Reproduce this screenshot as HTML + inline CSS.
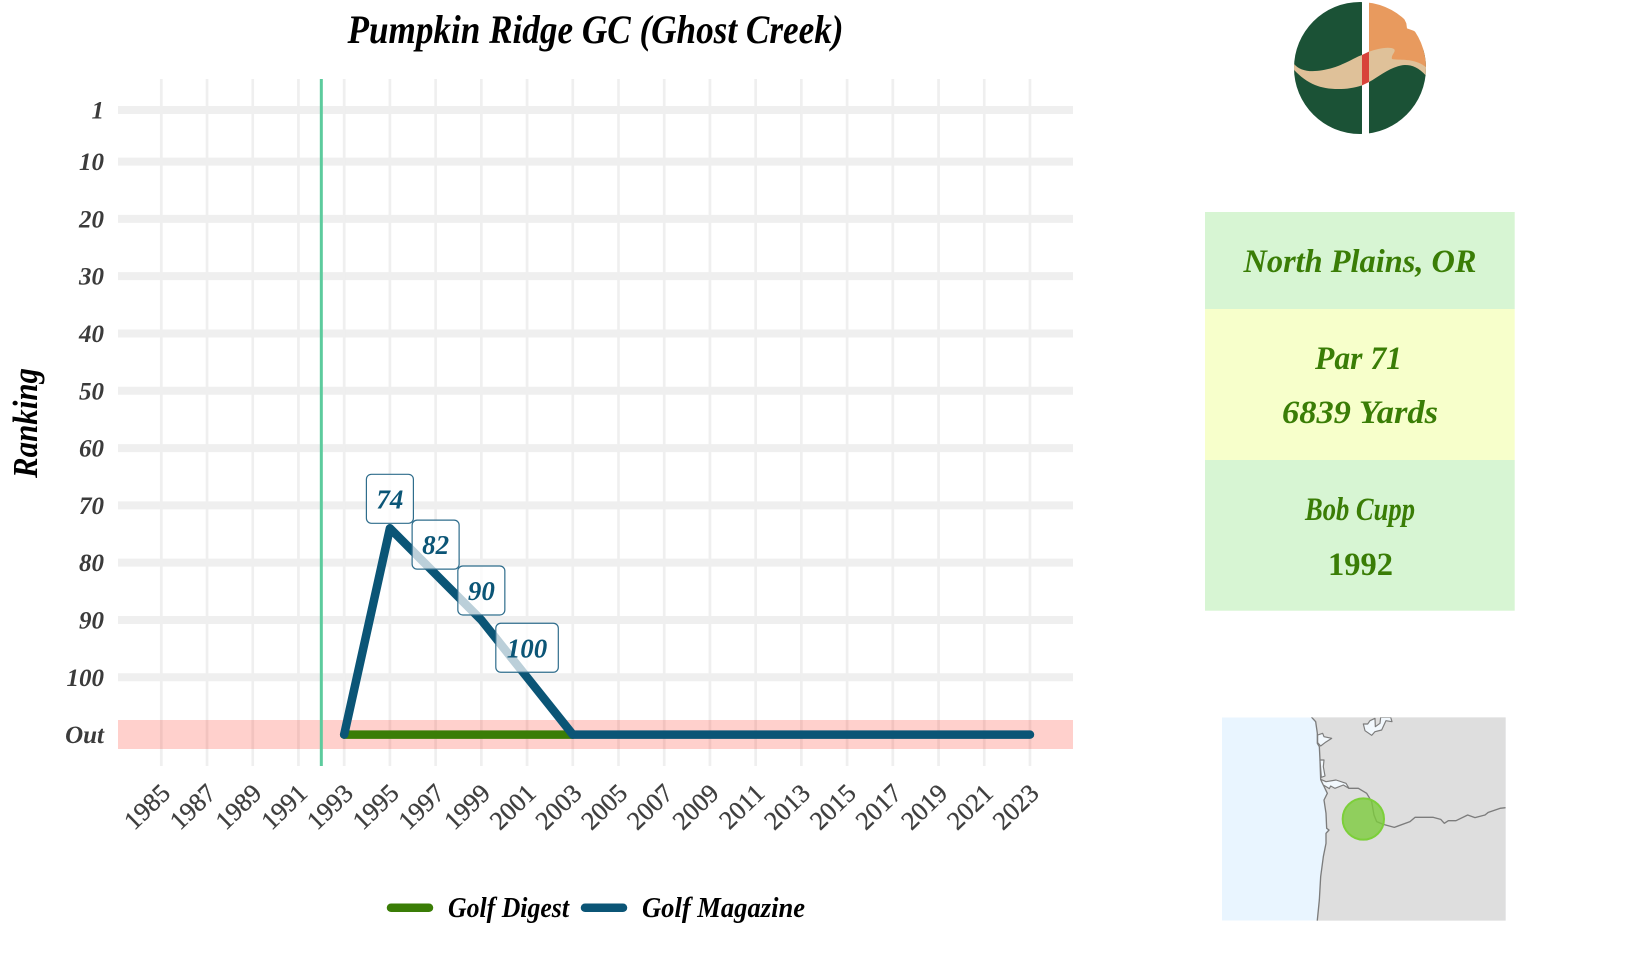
<!DOCTYPE html>
<html lang="en">
<head>
<meta charset="utf-8">
<title>Pumpkin Ridge GC (Ghost Creek)</title>
<style>
html,body{margin:0;padding:0;background:#fff;width:1632px;height:960px;overflow:hidden}
svg{display:block}
text{font-family:"Liberation Serif",serif}
.tt{font-weight:bold;font-style:italic;fill:#000}
.info{font-weight:bold;font-style:italic;fill:#3a7d06;font-size:33px}
</style>
</head>
<body>
<svg id="root" xmlns="http://www.w3.org/2000/svg" width="1632" height="960" viewBox="0 0 1632 960">
  <defs>
    <clipPath id="logoClip"><circle cx="480" cy="204" r="198"/></clipPath>
    <clipPath id="mapClip"><rect x="66" y="52" width="851" height="610"/></clipPath>
  </defs>

  <text class="tt" x="595.5" y="43" font-size="40" text-anchor="middle" textLength="496" lengthAdjust="spacingAndGlyphs">Pumpkin Ridge GC (Ghost Creek)</text>
  <text class="tt" transform="translate(37,478) rotate(-90)" font-size="35" textLength="110" lengthAdjust="spacingAndGlyphs">Ranking</text>

  <g id="grid"></g>
  <rect x="118" y="720" width="955" height="29" fill="#ff1500" fill-opacity="0.2"/>
  <g id="founded"></g>
  <g id="lines"></g>
  <g id="labels"></g>
  <g id="ytick"></g>
  <g id="xtick"></g>

  <g>
    <g>
      <line x1="391" y1="907.7" x2="429" y2="907.7" stroke="#3a7d06" stroke-width="8.5" stroke-linecap="round"/>
      <text class="tt" x="448" y="917" font-size="28" textLength="121" lengthAdjust="spacingAndGlyphs">Golf Digest</text>
    </g>
    <g>
      <line x1="585" y1="907.7" x2="623" y2="907.7" stroke="#0b5576" stroke-width="8.5" stroke-linecap="round"/>
      <text class="tt" x="642" y="917" font-size="28" textLength="163" lengthAdjust="spacingAndGlyphs">Golf Magazine</text>
    </g>
  </g>

  <g transform="translate(1200,0) scale(0.33333)">
    <g clip-path="url(#logoClip)">
      <rect x="270" y="0" width="216" height="410" fill="#1b5236"/>
      <rect x="507" y="150" width="190" height="260" fill="#1b5236"/>
      <path d="M507,0 L600,0 L612,55 L619,70 L621,85 L640,92 L690,120 L690,212 L640,186 L576,182 L507,200 Z" fill="#e89a5e"/>
      <path d="M276,183 C295,215 335,222 400,203 C440,190 465,172 486,165 L507,155 C530,148 565,138 582,147 C590,155 572,165 576,177 C600,182 650,172 685,208 L685,235 C660,205 640,195 615,195 C575,197 540,228 507,246 L486,256 C440,272 380,270 345,255 C320,245 295,225 276,203 Z" fill="#dfc199"/>
    </g>
    <path d="M486,165 L507,155 L507,246 L486,256 Z" fill="#d8433a"/>
  </g>

  <g>
    <rect x="1205" y="212" width="309.7" height="97" fill="#d7f5d3"/>
    <rect x="1205" y="309" width="309.7" height="151" fill="#f7ffcb"/>
    <rect x="1205" y="460" width="309.7" height="150.7" fill="#d7f5d3"/>
    <text class="info" x="1360" y="272" text-anchor="middle" textLength="233" lengthAdjust="spacingAndGlyphs">North Plains, OR</text>
    <text class="info" x="1358.5" y="369" text-anchor="middle" textLength="87" lengthAdjust="spacingAndGlyphs">Par 71</text>
    <text class="info" x="1360" y="423" text-anchor="middle" textLength="156" lengthAdjust="spacingAndGlyphs">6839 Yards</text>
    <text class="info" x="1360" y="520" text-anchor="middle" textLength="110" lengthAdjust="spacingAndGlyphs">Bob Cupp</text>
    <text class="info" x="1360.5" y="575" text-anchor="middle" textLength="65" lengthAdjust="spacingAndGlyphs" style="font-style:normal">1992</text>
  </g>

  <g transform="translate(1200,700) scale(0.33333)">
    <g clip-path="url(#mapClip)">
      <rect x="66" y="52" width="851" height="610" fill="#e9f5ff"/>
      <path d="M335,40 L335,52 L347,65 L352,100 L352,130 L358,140 L360,180 L362,238 L366,247 L370,255 L382,280 L372,300 L378,340 L380,385 L387,390 L378,400 L378,430 L370,470 L362,530 L358,600 L350,680 L935,680 L935,40 Z" fill="#dedede" stroke="#7c7c7c" stroke-width="4" stroke-linejoin="round"/>
      <g fill="#f2f8fd" stroke="#7c7c7c" stroke-width="3.5" stroke-linejoin="round">
        <path d="M353,105 L368,100 L372,110 L395,115 L375,128 L362,138 L353,128 Z"/>
        <path d="M360,180 L372,180 L370,200 L375,228 L364,232 Z"/>
        <path d="M362,238 L378,245 L408,240 L438,250 L447,265 L430,255 L405,265 L392,258 L388,266 L370,255 Z"/>
        <path d="M490,72 L503,72 L510,62 L525,55 L526,80 L540,70 L542,52 L550,52 L572,52 L576,65 L558,62 L545,90 L525,95 L515,106 L495,92 Z"/>
      </g>
      <path d="M445,265 L475,265 L500,280 L515,305 L522,345 L530,365 L550,373 L583,382 L630,365 L645,352 L700,352 L722,358 L733,370 L745,362 L768,362 L803,345 L825,353 L855,345 L865,337 L900,325 L917,323" fill="none" stroke="#7c7c7c" stroke-width="4" stroke-linejoin="round"/>
      <circle cx="490" cy="357" r="62" fill="#7ccb3c" fill-opacity="0.8" stroke="#7ccf3a" stroke-width="6"/>
    </g>
  </g>
</svg>

<script>
const xTickYears = [1985,1987,1989,1991,1993,1995,1997,1999,2001,2003,2005,2007,2009,2011,2013,2015,2017,2019,2021,2023];
const yTickValues = [1,10,20,30,40,50,60,70,80,90,100,110];
const yTickLabels = ["1","10","20","30","40","50","60","70","80","90","100","Out"];
const outValue = 110;
const foundedYear = 1992;
const digestYears = [1993,1995,1997,1999,2001,2003];
const digestValues = [110,110,110,110,110,110];
const magazineYears = [1993,1995,1997,1999,2001,2003,2005,2007,2009,2011,2013,2015,2017,2019,2021,2023];
const magazineValues = [110,74,82,90,100,110,110,110,110,110,110,110,110,110,110,110];

const NS = 'http://www.w3.org/2000/svg';
function xScale(year){ return 161.3 + (year - 1985) * 22.86; }
function yScale(rank){ return 110 + (rank - 1) * 5.73; }
function mk(parent, tag, attrs){
  const el = document.createElementNS(NS, tag);
  for (const k in attrs) el.setAttribute(k, attrs[k]);
  parent.appendChild(el);
  return el;
}
const grid = document.getElementById('grid');
const ytick = document.getElementById('ytick');
const xtick = document.getElementById('xtick');
const lines = document.getElementById('lines');
const labels = document.getElementById('labels');
const founded = document.getElementById('founded');

yTickValues.forEach(function(v, i){
  if (v !== outValue) {
    const gl = mk(grid, 'line', {x1:118, x2:1073, y1:yScale(v), y2:yScale(v), stroke:'#efefef', 'stroke-width':8});
    
    
  }
  const t = mk(ytick, 'text', {x:104, y:yScale(v)+8.5, 'text-anchor':'end', 'font-size':25, 'font-weight':'bold', 'font-style':'italic', fill:'#3b3b3b'});
  t.textContent = yTickLabels[i];
  
  
});
xTickYears.forEach(function(yr){
  const gl = mk(grid, 'line', {x1:xScale(yr), x2:xScale(yr), y1:79, y2:766, stroke:'#efefef', 'stroke-width':2.7});
  
  
  const bx = xScale(yr) + 10.4;
  const t = mk(xtick, 'text', {transform:'translate('+bx+',795) rotate(-44)', 'text-anchor':'end', 'font-size':26, fill:'#3f3f3f', stroke:'#3f3f3f', 'stroke-width':0.35});
  t.textContent = String(yr);
  
  
});

const fl = mk(founded, 'line', {x1:xScale(foundedYear), x2:xScale(foundedYear), y1:79, y2:766, stroke:'#5ccb9d', 'stroke-width':3});



function pathOf(years, values){
  return years.map(function(y, i){ return (i ? 'L' : 'M') + xScale(y).toFixed(2) + ',' + yScale(values[i]).toFixed(2); }).join(' ');
}
const digestLine = mk(lines, 'path', {d:pathOf(digestYears, digestValues), fill:'none', stroke:'#3a7d06', 'stroke-width':8.5, 'stroke-linecap':'round', 'stroke-linejoin':'round'});


const magazineLine = mk(lines, 'path', {d:pathOf(magazineYears, magazineValues), fill:'none', stroke:'#0b5576', 'stroke-width':8.5, 'stroke-linecap':'round', 'stroke-linejoin':'round'});



magazineValues.forEach(function(v, i){
  if (v === outValue) return;
  const txt = String(v);
  const w = 16 + 15.5 * txt.length;
  const cx = xScale(magazineYears[i]);
  const bottom = yScale(v) - 5;
  const r = mk(labels, 'rect', {x:cx - w/2, y:bottom - 49, width:w, height:49, rx:5, ry:5, fill:'#ffffff', 'fill-opacity':0.72, stroke:'#2f6d8c', 'stroke-width':1.2});
  
  
  const t = mk(labels, 'text', {x:cx, y:bottom - 15, 'text-anchor':'middle', 'font-size':27, 'font-weight':'bold', 'font-style':'italic', fill:'#0b5576'});
  t.textContent = txt;
  
  
});
</script>
</body>
</html>
